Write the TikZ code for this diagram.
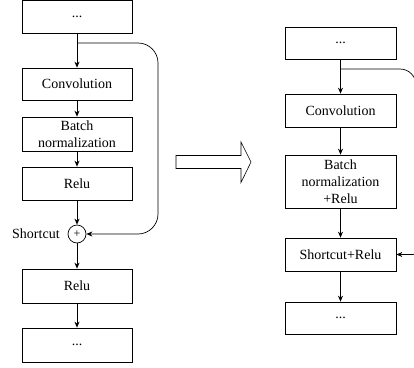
\documentclass[tikz,border=0pt]{standalone}
\usepackage{fontspec}
\setmainfont{Liberation Serif}
\usetikzlibrary{arrows.meta,calc}
\begin{document}
\begin{tikzpicture}[x=1pt,y=-1pt,
  line width=0.7pt,
  blk/.style={draw, minimum width=110pt, inner sep=0pt, align=center,
    font=\fontsize{14}{17}\selectfont},
  arr/.style={-{Stealth[length=6pt,width=5pt]}},
  lbl/.style={font=\fontsize{14}{17}\selectfont, inner sep=0pt}]
\useasboundingbox (0,0) rectangle (414,367);
\clip (0,0) rectangle (414,367);
% left column
\node[blk, minimum height=32.5pt] (l1) at (77,17) {...};
\node[blk, minimum height=32pt] (lconv) at (77,84) {Convolution};
\node[blk, minimum height=34pt] (lbn) at (77,134) {Batch\\normalization};
\node[blk, minimum height=33pt] (lrelu) at (77,183.5) {Relu};
\node[draw, circle, minimum size=18pt, inner sep=0pt, font=\fontsize{12}{14}\selectfont] (plus) at (77,234) {+};
\node[lbl, anchor=east] (sclbl) at (60,234) {Shortcut};
\node[blk, minimum height=34pt] (lrelu2) at (77,286) {Relu};
\node[blk, minimum height=34pt] (l2) at (77,345) {...};
\coordinate (lsplit) at (77,43);
\draw[arr] (l1) -- (lconv);
\draw[arr] (lconv) -- (lbn);
\draw[arr] (lbn) -- (lrelu);
\draw[arr] (lrelu) -- (plus);
\draw[arr] (plus) -- (lrelu2);
\draw[arr] (lrelu2) -- (l2);
\draw[arr, rounded corners=20pt] (lsplit) -| (158,234) -- (plus.east);
% hollow arrow
\draw[line width=0.6pt] (176,155.5) -- (241,155.5) -- (241,142) -- (251,162) -- (241,182.5) -- (241,168.5) -- (176,168.5) -- cycle;
% right column
\node[blk, minimum width=111pt, minimum height=32pt] (r1) at (340.5,43) {...};
\node[blk, minimum width=111pt, minimum height=33pt] (rconv) at (340.5,110.5) {Convolution};
\node[blk, minimum width=111pt, minimum height=53pt] (rbn) at (340.5,181.5) {Batch\\normalization\\+Relu};
\node[blk, minimum width=111pt, minimum height=33pt] (rsr) at (340.5,254.5) {Shortcut+Relu};
\node[blk, minimum width=111pt, minimum height=32pt] (r2) at (340.5,318) {...};
\coordinate (rsplit) at (340.5,69);
\coordinate (rside) at (416,160);
\draw[arr] (r1) -- (rconv);
\draw[arr] (rconv) -- (rbn);
\draw[arr] (rbn) -- (rsr);
\draw[arr] (rsr) -- (r2);
\draw[arr] (rsplit) [rounded corners=16pt] -| (rside) [rounded corners=3pt] |- (rsr.east);
\end{tikzpicture}
\end{document}
